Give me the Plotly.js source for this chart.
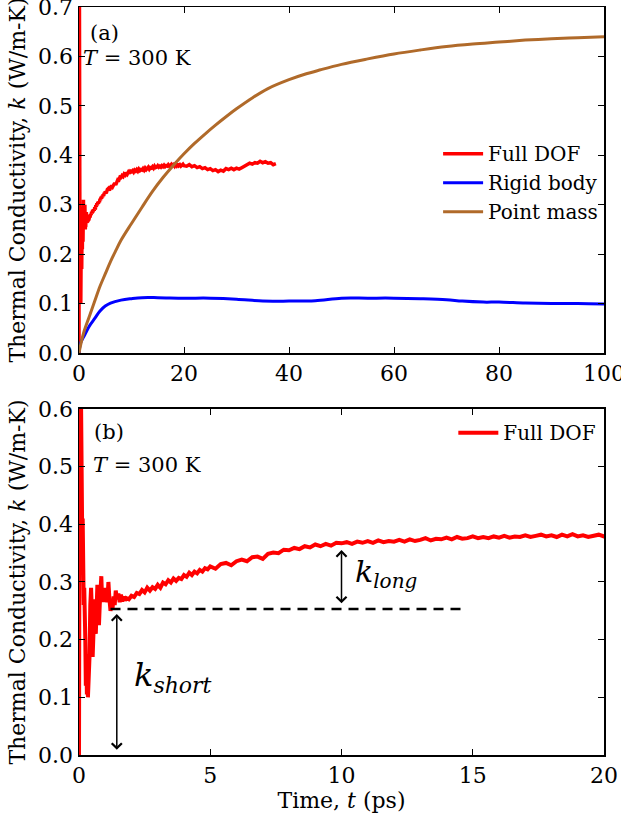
<!DOCTYPE html>
<html>
<head>
<meta charset="utf-8">
<script src="https://cdn.plot.ly/plotly-3.0.1.min.js"></script>
<style>html,body{margin:0;padding:0;background:#fff;}#chart{width:621px;height:813px;}</style>
</head>
<body>
<div id="chart"></div>
<script>
// ---- Full DOF (time in ps, k in W/m-K) ----
const tFull = [0,0.02,0.04,0.06,0.08,0.10,0.12,0.14,0.16,0.18,0.20,0.22,0.24,0.26,0.28,0.30,0.32,0.34,0.36,0.38,0.40,
  0.43,0.46,0.49,0.52,0.55,0.58,0.61,0.64,0.67,0.70,0.73,0.76,0.79,0.82,0.85,0.88,0.91,0.94,0.97,1.00,
  1.04,1.08,1.12,1.16,1.20,1.24,1.28,1.32,1.36,1.40,1.45,1.50,1.55,1.60,1.65,1.70,1.75,1.80,1.90,2.00,
  2.1,2.2,2.3,2.4,2.5,2.6,2.7,2.8,2.9,3.0,3.1,3.2,3.3,3.4,3.5,3.6,3.7,3.8,3.9,4.0,4.1,4.2,4.3,4.4,4.5,4.6,4.7,4.8,4.9,5.0,
  5.2,5.4,5.6,5.8,6.0,6.2,6.4,6.6,6.8,7.0,
  7.2,7.4,7.6,7.8,8.0,8.2,8.4,8.6,8.8,9.0,9.2,9.4,9.6,9.8,10.0,10.2,10.4,10.6,10.8,11.0,11.2,11.4,11.6,11.8,12.0,
  12.2,12.4,12.6,12.8,13.0,13.2,13.4,13.6,13.8,14.0,14.2,14.4,14.6,14.8,15.0,15.2,15.4,15.6,15.8,16.0,
  16.2,16.4,16.6,16.8,17.0,17.2,17.4,17.6,17.8,18.0,18.2,18.4,18.6,18.8,19.0,19.2,19.4,19.6,19.8,20.0,
  20.5,21,21.5,22,22.5,23,23.5,24,24.5,25,25.5,26,26.5,27,27.5,28,28.5,29,29.5,30,30.5,31,31.5,32,32.5,
  33,33.5,34,34.5,35,35.5,36,36.5,37,37.5];
const kFull = [0,0.40,0.95,0.80,0.60,0.42,0.39,0.41,0.30,0.26,0.29,0.265,0.20,0.12,0.175,0.105,0.15,0.10,0.13,0.105,0.17,
  0.26,0.29,0.25,0.17,0.21,0.27,0.255,0.21,0.26,0.295,0.275,0.225,0.26,0.28,0.31,0.27,0.285,0.265,0.29,0.275,
  0.28,0.265,0.30,0.27,0.25,0.26,0.255,0.275,0.26,0.285,0.27,0.28,0.265,0.278,0.266,0.275,0.268,0.272,0.27,0.276,
  0.274,0.281,0.279,0.286,0.282,0.29,0.285,0.291,0.288,0.295,0.29,0.299,0.296,0.303,0.299,0.306,0.302,0.307,0.305,0.312,0.309,0.316,0.312,0.318,0.315,0.321,0.318,0.324,0.322,0.327,
  0.323,0.331,0.333,0.329,0.336,0.339,0.336,0.343,0.344,0.34,
  0.349,0.351,0.35,0.356,0.355,0.359,0.357,0.362,0.36,0.365,0.362,0.366,0.363,0.368,0.367,0.369,0.366,0.37,0.368,0.371,0.368,0.372,0.369,0.371,0.37,
  0.373,0.37,0.374,0.371,0.373,0.376,0.372,0.375,0.374,0.377,0.374,0.378,0.375,0.376,0.379,0.376,0.378,0.376,0.379,0.377,
  0.38,0.377,0.379,0.378,0.381,0.378,0.38,0.382,0.379,0.381,0.378,0.382,0.379,0.383,0.379,0.381,0.378,0.38,0.382,0.379,
  0.378,0.381,0.377,0.379,0.375,0.377,0.373,0.375,0.371,0.373,0.369,0.371,0.367,0.37,0.368,0.373,0.371,0.374,0.371,0.374,0.372,0.375,0.378,0.381,0.384,
  0.382,0.385,0.384,0.388,0.385,0.387,0.384,0.385,0.381,0.383];

// ---- Rigid body ----
const tRigid = [0,0.3,1,2,3,4,5,6,8,10,12,15,20,25,30,35,40,45,50,55,60,65,70,73,77,80,85,90,95,100];
const kRigid = [0,0.02,0.035,0.055,0.07,0.085,0.095,0.101,0.107,0.11,0.112,0.112,0.111,0.111,0.109,0.105,0.105,0.106,0.111,0.111,0.111,0.11,0.108,0.105,0.103,0.103,0.101,0.1,0.1,0.099];

// ---- Point mass ----
const tPoint = [0,0.5,1,2,3,4,5,6,7,8,10,12,14,16,18,20,22,24,26,28,30,33,36,40,43,46,50,55,60,65,70,75,80,85,90,95,100];
const kPoint = [0,0.025,0.045,0.075,0.105,0.135,0.16,0.185,0.207,0.228,0.262,0.295,0.327,0.355,0.38,0.403,0.424,0.443,0.461,0.478,0.494,0.516,0.535,0.553,0.564,0.573,0.584,0.595,0.605,0.613,0.62,0.625,0.629,0.633,0.636,0.638,0.64];

const seriesNames = ['Full DOF','Rigid body','Point mass'];
const colors = ['#ff0000','#0000ff','#b06a2a'];
const xTicksTop = [0,20,40,60,80,100];
const yTicksTop = [0,0.1,0.2,0.3,0.4,0.5,0.6,0.7];
const xTicksBot = [0,5,10,15,20];
const yTicksBot = [0,0.1,0.2,0.3,0.4,0.5,0.6];

// annotation values (panel b)
const kShortLevel = 0.253;
const dashStart = 1.2, dashEnd = 14.8;
const shortArrowT = 1.44, longArrowT = 10.0, longTop = 0.358;

const FONT = 'DejaVu Serif, serif';
const MATH = 'DejaVu Serif, serif';

const traces = [
  {x:tFull, y:kFull, mode:'lines', name:seriesNames[0], line:{color:colors[0], width:3.5}, xaxis:'x', yaxis:'y', legend:'legend'},
  {x:tRigid, y:kRigid, mode:'lines', name:seriesNames[1], line:{color:colors[1], width:3, shape:'spline'}, xaxis:'x', yaxis:'y', legend:'legend'},
  {x:tPoint, y:kPoint, mode:'lines', name:seriesNames[2], line:{color:colors[2], width:3, shape:'spline'}, xaxis:'x', yaxis:'y', legend:'legend'},
  {x:tFull, y:kFull, mode:'lines', name:seriesNames[0], line:{color:colors[0], width:4}, xaxis:'x2', yaxis:'y2', legend:'legend2'}
];

function axBase(extra){
  return Object.assign({
    showline:true, linecolor:'#000', linewidth:1.5, mirror:'ticks',
    ticks:'inside', ticklen:6, tickwidth:1, tickcolor:'#000', ticklabeloverflow:'allow',
    showgrid:false, zeroline:false, tickfont:{family:FONT, size:22, color:'#000'}
  }, extra);
}

const titleY = {text:'Thermal Conductivity, <i>k</i> (W/m-K)', font:{family:FONT, size:22, color:'#000'}, standoff:6};

const layout = {
  width:621, height:813,
  margin:{l:79, r:17, t:7, b:58},
  paper_bgcolor:'#fff', plot_bgcolor:'#fff',
  font:{family:FONT, color:'#000'},
  xaxis: axBase({domain:[0,1], anchor:'y', range:[0,100], tickvals:xTicksTop}),
  yaxis: axBase({domain:[0.5374,1], anchor:'x', range:[0,0.7], tickvals:yTicksTop, tickformat:'.1f', title:titleY}),
  xaxis2: axBase({domain:[0,1], anchor:'y2', range:[0,20], tickvals:xTicksBot,
    title:{text:'Time, <i>t</i> (ps)', font:{family:FONT, size:22, color:'#000'}, standoff:4}}),
  yaxis2: axBase({domain:[0,0.4626], anchor:'x2', range:[0,0.6], tickvals:yTicksBot, tickformat:'.1f', title:titleY}),
  legend:{x:0.684, y:0.83, xanchor:'left', yanchor:'top', bgcolor:'rgba(0,0,0,0)', borderwidth:0,
    font:{family:FONT, size:20, color:'#000'}, itemwidth:40, tracegroupgap:0},
  legend2:{x:0.713, y:0.457, xanchor:'left', yanchor:'top', bgcolor:'rgba(0,0,0,0)', borderwidth:0,
    font:{family:FONT, size:20, color:'#000'}, itemwidth:40},
  showlegend:true,
  shapes:[
    {type:'line', xref:'x2', yref:'y2', x0:dashStart, x1:dashEnd, y0:kShortLevel, y1:kShortLevel,
     line:{color:'#000', width:2.5, dash:'10px,7px'}}
  ],
  annotations:[
    {xref:'x', yref:'y', x:1.7, y:0.647, text:'(a)', showarrow:false, xanchor:'left', yanchor:'middle', font:{family:FONT, size:21}},
    {xref:'x', yref:'y', x:0.4, y:0.596, text:'<i>T</i> = 300 K', showarrow:false, xanchor:'left', yanchor:'middle', font:{family:FONT, size:21}},
    {xref:'x2', yref:'y2', x:0.48, y:0.56, text:'(b)', showarrow:false, xanchor:'left', yanchor:'middle', font:{family:FONT, size:21}},
    {xref:'x2', yref:'y2', x:0.45, y:0.503, text:'<i>T</i> = 300 K', showarrow:false, xanchor:'left', yanchor:'middle', font:{family:FONT, size:21}},
    {xref:'x2', yref:'y2', x:2.0, y:0.135, text:'<i>k</i><sub><i><span style="font-size:22px">short</span></i></sub>', showarrow:false, xanchor:'left', yanchor:'middle', font:{family:MATH, size:32}},
    {xref:'x2', yref:'y2', x:10.45, y:0.315, text:'<i>k</i><sub><i><span style="font-size:20px">long</span></i></sub>', showarrow:false, xanchor:'left', yanchor:'middle', font:{family:MATH, size:30}},
    {xref:'x2', yref:'y2', axref:'x2', ayref:'y2', x:shortArrowT, y:0.009, ax:shortArrowT, ay:kShortLevel-0.006, text:'',
     showarrow:true, arrowside:'end+start', arrowhead:4, arrowsize:1.3, arrowwidth:1.5, arrowcolor:'#000'},
    {xref:'x2', yref:'y2', axref:'x2', ayref:'y2', x:longArrowT, y:kShortLevel+0.01, ax:longArrowT, ay:longTop, text:'',
     showarrow:true, arrowside:'end+start', arrowhead:4, arrowsize:1.3, arrowwidth:1.5, arrowcolor:'#000'}
  ]
};

Plotly.newPlot('chart', traces, layout, {displayModeBar:false, staticPlot:true});
</script>
</body>
</html>
